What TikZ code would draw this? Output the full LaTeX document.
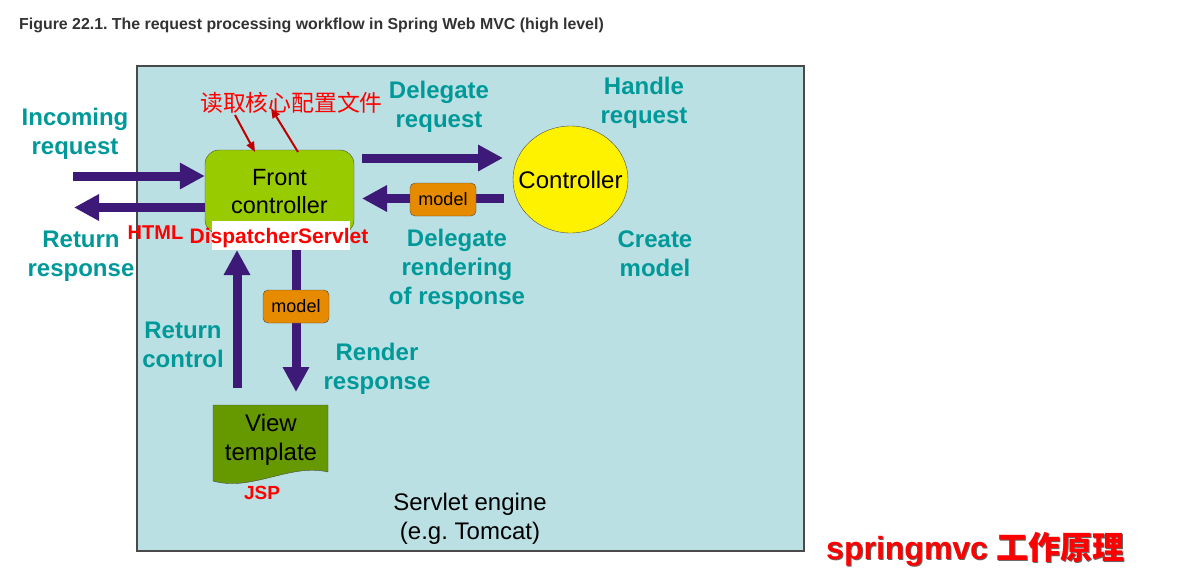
\documentclass[tikz,border=0pt]{standalone}
\usepackage{fontspec}
\setmainfont{Liberation Sans}
\newfontfamily\cjk{Noto Sans CJK SC}
\usetikzlibrary{arrows.meta,shapes.geometric}
\definecolor{bgblue}{HTML}{BBE0E3}
\definecolor{fcgreen}{HTML}{99CC00}
\definecolor{vtgreen}{HTML}{669900}
\definecolor{flowpurple}{HTML}{3D1A78}
\definecolor{labelteal}{HTML}{009999}
\definecolor{modelorange}{HTML}{E68A00}
\definecolor{arrowred}{HTML}{C00000}
\definecolor{titlegrey}{HTML}{333333}
\definecolor{edgegrey}{HTML}{4A4A4A}
\tikzset{
  flow/.style={draw=flowpurple, line width=9pt, -{Triangle[length=25pt,width=25pt]}},
  readarrow/.style={draw=arrowred, line width=2pt, -{Triangle[length=10pt,width=8pt]}},
  tealtext/.style={text=labelteal, font=\fontsize{24}{29}\selectfont\bfseries, align=center, inner sep=0pt},
  blacktext/.style={text=black, font=\fontsize{24}{29}\selectfont, align=center, inner sep=0pt},
  redtext/.style={text=red, font=\fontsize{20}{24}\selectfont\bfseries, inner sep=0pt},
  modelbox/.style={draw=edgegrey, fill=modelorange, rounded corners=5pt, minimum width=66pt, minimum height=33pt, inner sep=0pt, font=\fontsize{18}{20}\selectfont},
}
\begin{document}
\frenchspacing
\begin{tikzpicture}[x=1pt,y=-1pt]
\useasboundingbox[fill=white] (0,0) rectangle (1178,582);
% title
\node[anchor=west, inner sep=0pt, text=titlegrey, font=\fontsize{15.9}{18}\selectfont\bfseries] (title) at (19,25) {Figure 22.1. The request processing workflow in Spring Web MVC (high level)};
% servlet engine box
\draw[draw=edgegrey, line width=1.5pt, fill=bgblue] (137,66) rectangle (804,551);
% front controller
\node[draw=edgegrey, fill=fcgreen, rounded corners=14pt, minimum width=149pt, minimum height=84pt, inner sep=0pt, font=\fontsize{23.5}{28}\selectfont, align=center] (fc) at (279.5,192) {Front\\controller};
\node[fill=white, minimum width=138pt, minimum height=29pt, inner sep=0pt] (dsbox) at (281,235.5) {};
\node[redtext, font=\fontsize{21}{24}\selectfont\bfseries, anchor=base] (ds) at (279,243.5) {DispatcherServlet};
\node[redtext, anchor=base] (html) at (155.5,239) {HTML};
% controller
\node[ellipse, draw=edgegrey, fill=yellow, minimum width=115pt, minimum height=107pt, inner sep=0pt] (ctrl) at (570.5,179.5) {};
\node[inner sep=0pt, font=\fontsize{24}{28}\selectfont] (ctrltext) at (ctrl.center) {Controller};
% view template
\draw[draw=edgegrey, fill=vtgreen] (213,405) -- (328,405) -- (328,472) .. controls (290,463) and (252,492) .. (213,481) -- cycle;
\node[blacktext] (vt) at (271,440) {View\\template};
\node[redtext, font=\fontsize{19}{22}\selectfont\bfseries] (jsp) at (262,493) {JSP};
% servlet engine label
\node[blacktext] (se) at (470,518.5) {Servlet engine\\(e.g. Tomcat)};
% coordinates
\coordinate (inL) at (73,176);
\coordinate (outL) at (74,207.5);
\coordinate (dlS) at (362,158);
\coordinate (dlE) at (503,158);
\coordinate (rtS) at (504,198.5);
\coordinate (rtE) at (362,198.5);
\coordinate (dnS) at (296,250);
\coordinate (dnE) at (296,392);
\coordinate (upS) at (237,388);
\coordinate (upE) at (237,250);
% flows
\draw[flow] (inL) -- (fc.west |- inL);
\draw[flow] (fc.west |- outL) -- (outL);
\draw[flow] (dlS) -- (dlE);
\draw[flow] (rtS) -- (rtE);
\draw[flow] (dnS) -- (dnE);
\draw[flow] (upS) -- (upE);
\node[modelbox] (m1) at (443,199.5) {model};
\node[modelbox] (m2) at (296,306.5) {model};
% read config
\node[text=red, inner sep=0pt, font=\cjk\fontsize{22.8}{24}\selectfont] (cfg) at (291.5,103) {读取核心配置文件};
\coordinate (r1s) at (235,115);
\coordinate (r1e) at (255,152);
\coordinate (r2s) at (298,152);
\coordinate (r2e) at (271,108);
\draw[readarrow] (r1s) -- (r1e);
\draw[readarrow] (r2s) -- (r2e);
% teal labels
\node[tealtext] (inc) at (75,134) {Incoming\\request};
\node[tealtext] (retr) at (81,256) {Return\\response};
\node[tealtext] (delr) at (439,107) {Delegate\\request};
\node[tealtext] (hand) at (644,103) {Handle\\request};
\node[tealtext] (delrend) at (457,269) {Delegate\\rendering\\of response};
\node[tealtext] (crm) at (655,254) {Create\\model};
\node[tealtext] (retc) at (183,345) {Return\\control};
\node[tealtext] (rend) at (377,369) {Render\\response};
% caption
\node[anchor=west, inner sep=0pt, text=black!60, font=\fontsize{32}{34}\selectfont\bfseries] (capshadow) at (827,550) {springmvc {\cjk 工作原理}};
\node[anchor=west, inner sep=0pt, text=red, font=\fontsize{32}{34}\selectfont\bfseries] (cap) at (826,549) {springmvc {\cjk 工作原理}};
\end{tikzpicture}
\end{document}
